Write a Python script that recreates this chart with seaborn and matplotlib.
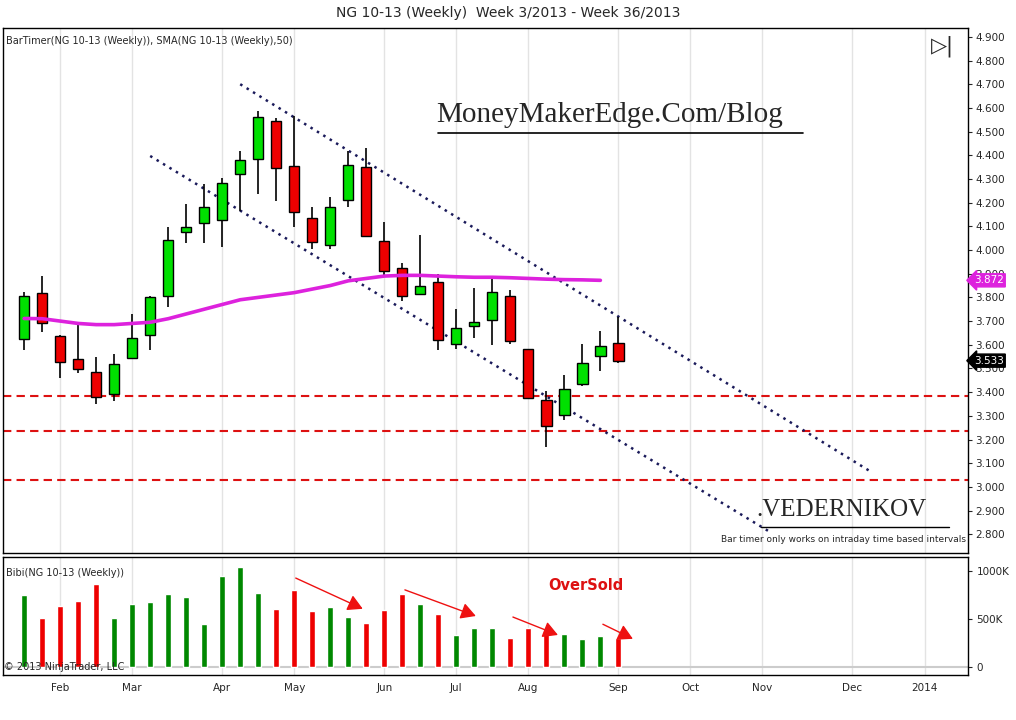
import numpy as np, pandas as pd, matplotlib
matplotlib.use('Agg')
import matplotlib.pyplot as plt
import seaborn as sns

sns.set_style('white')
plt.rcParams['font.family'] = ['DejaVu Sans']

# weekly candles, week 3/2013 .. week 36/2013 (plotted on Fridays)
opens  = [3.624,3.818,3.637,3.540,3.487,3.394,3.543,3.642,3.805,4.077,4.114,4.127,4.321,4.383,4.546,4.356,4.134,
          4.021,4.210,4.349,4.039,3.924,3.813,3.866,3.602,3.680,3.703,3.805,3.584,3.368,3.303,3.436,3.553,3.606]
highs  = [3.824,3.889,3.643,3.690,3.550,3.563,3.728,3.807,4.097,4.194,4.278,4.304,4.418,4.587,4.557,4.565,4.181,
          4.222,4.418,4.432,4.119,3.947,4.062,3.899,3.752,3.841,3.890,3.831,3.584,3.403,3.474,3.605,3.660,3.719]
lows   = [3.577,3.653,3.459,3.481,3.349,3.364,3.543,3.577,3.759,4.028,4.028,4.013,4.163,4.238,4.209,4.099,4.006,
          4.006,4.182,4.061,3.889,3.785,3.813,3.578,3.580,3.627,3.597,3.602,3.375,3.168,3.281,3.425,3.490,3.521]
closes = [3.807,3.690,3.527,3.499,3.381,3.518,3.628,3.800,4.043,4.096,4.180,4.281,4.378,4.563,4.347,4.160,4.034,
          4.180,4.361,4.061,3.911,3.807,3.850,3.619,3.672,3.697,3.823,3.615,3.375,3.256,3.412,3.524,3.593,3.533]
sma50  = [3.711,3.710,3.700,3.690,3.685,3.685,3.690,3.695,3.710,3.730,3.750,3.770,3.790,3.800,3.810,3.820,3.835,
          3.850,3.870,3.880,3.890,3.893,3.893,3.890,3.887,3.885,3.885,3.883,3.880,3.877,3.875,3.874,3.872,np.nan]
volume = [753,510,640,692,866,510,651,682,764,733,445,949,1041,774,603,798,579,620,517,455,589,764,651,548,
          332,404,404,305,404,373,342,291,322,301]

support = [3.383, 3.237, 3.030]
# channel lines: (days from first bar, price)
upper_ch = [(84, 4.700), (329, 3.065)]
lower_ch = [(49, 4.397), (290, 2.809)]
# volume arrows: (days, volume K) start -> end
vol_arrows = [((104.6, 938), (132.6, 594)), ((147, 813), (176.6, 521)),
              ((189, 531), (208.5, 323)), ((224, 458), (237.6, 281))]

start = pd.Timestamp('2013-01-18')
days = np.arange(len(opens)) * 7
fridays = pd.date_range(start, '2014-02-01', freq='7D')
first_fri = [d for i, d in enumerate(fridays) if i == 0 or d.month != fridays[i-1].month][1:]
tick_pos = [(d - start).days for d in first_fri]
tick_lab = ['2014' if d.year == 2014 else d.strftime('%b') for d in first_fri]

GREEN, RED = '#00e000', '#ee0000'
fig = plt.figure(figsize=(10.16, 7.2), dpi=100)
ax = fig.add_axes([0.003, 0.232, 0.950, 0.729])
axv = fig.add_axes([0.003, 0.0625, 0.950, 0.164], sharex=ax)
xlim = (-8.2, 367)

o, h, l, c = map(np.array, (opens, highs, lows, closes))
up = c >= o
ax.vlines(days, l, h, color='black', lw=1.2, zorder=3)
ax.bar(days, np.abs(c - o), bottom=np.minimum(o, c), width=4.0,
       color=np.where(up, GREEN, RED), edgecolor='black', lw=1, zorder=4)
sns.lineplot(x=days, y=sma50, ax=ax, color='#dd22dd', lw=2.6, zorder=5)
for s in support:
    ax.axhline(s, color='#dd1111', ls=(0, (4, 2.5)), lw=1.5, zorder=2)
for ch in (upper_ch, lower_ch):
    ax.plot([p[0] for p in ch], [p[1] for p in ch], color='#1a1a5a', ls=(0, (1, 2)), lw=1.8, zorder=2)

ax.set_xlim(*xlim); ax.set_ylim(2.721, 4.937)
ax.yaxis.tick_right()
ax.set_yticks(np.round(np.arange(2.8, 4.91, 0.1), 1))
ax.set_yticklabels([f'{v:.3f}' for v in np.arange(2.8, 4.91, 0.1)], fontsize=7.5)
ax.set_yticks(np.round(np.arange(2.8, 4.91, 0.3), 1), minor=True)
ax.grid(True, which='minor', axis='y', color='#e3e3e3', lw=1)
ax.set_xticks(tick_pos)
ax.grid(True, which='major', axis='x', color='#e3e3e3', lw=1)
ax.tick_params(axis='x', labelbottom=False, length=0)
ax.tick_params(axis='y', which='both', length=3, pad=2)
ax.tick_params(axis='y', which='minor', length=0)
for sp in ax.spines.values(): sp.set_color('black'); sp.set_linewidth(1)

for val, col in ((sma50[-2], '#dd22dd'), (closes[-1], 'black')):
    ax.annotate(f'{val:.3f}', xy=(1, val), xycoords=('axes fraction', 'data'), xytext=(4, 0),
                textcoords='offset points', va='center', fontsize=7.5, color='white', zorder=10,
                bbox=dict(boxstyle='larrow,pad=0.15', fc=col, ec=col))

ax.text(0.003, 0.985, 'BarTimer(NG 10-13 (Weekly)), SMA(NG 10-13 (Weekly),50)', transform=ax.transAxes,
        fontsize=7, va='top')
ax.text(0.449, 0.835, 'MoneyMakerEdge.Com/Blog', transform=ax.transAxes, fontsize=21,
        family='Liberation Serif', va='center')
ax.plot([0.451, 0.829], [0.8, 0.8], transform=ax.transAxes, color='black', lw=1.2)
ax.text(0.78, 0.082, '.VEDERNIKOV', transform=ax.transAxes, fontsize=18, family='Liberation Serif', va='center')
ax.plot([0.785, 0.98], [0.05, 0.05], transform=ax.transAxes, color='black', lw=1)
ax.text(0.998, 0.025, 'Bar timer only works on intraday time based intervals', transform=ax.transAxes,
        fontsize=6.5, ha='right', va='center')
ax.text(0.985, 0.965, '▷|', transform=ax.transAxes, fontsize=15, ha='right', va='center')

axv.bar(days, volume, width=2.4, color=np.where(up, '#008800', RED), zorder=3)
for (x0, y0), (x1, y1) in vol_arrows:
    axv.annotate('', xy=(x1, y1), xytext=(x0, y0),
                 arrowprops=dict(arrowstyle='-|>,head_width=0.5,head_length=0.9', color='#ee1111', lw=1))
axv.text(0.565, 0.72, 'OverSold', transform=axv.transAxes, color='#dd1111', fontsize=10.5, weight='bold')
axv.text(0.003, 0.91, 'Bibi(NG 10-13 (Weekly))', transform=axv.transAxes, fontsize=7, va='top')
axv.text(0.001, 0.07, '© 2013 NinjaTrader, LLC', transform=axv.transAxes, fontsize=7, va='center')
axv.set_ylim(-83, 1146)
axv.yaxis.tick_right()
axv.set_yticks([0, 500, 1000])
axv.set_yticklabels(['0', '500K', '1000K'], fontsize=7.5)
axv.axhline(0, color='#cccccc', lw=1.5, zorder=1)
axv.grid(True, axis='x', color='#e3e3e3', lw=1)
axv.set_xticks(tick_pos)
axv.set_xticklabels(tick_lab, fontsize=7.5)
axv.tick_params(axis='both', length=3, pad=3)
for sp in axv.spines.values(): sp.set_color('black'); sp.set_linewidth(1)

fig.text(0.5, 0.982, 'NG 10-13 (Weekly)  Week 3/2013 - Week 36/2013', ha='center', va='center', fontsize=10)
fig.savefig('out.png', dpi=100)
